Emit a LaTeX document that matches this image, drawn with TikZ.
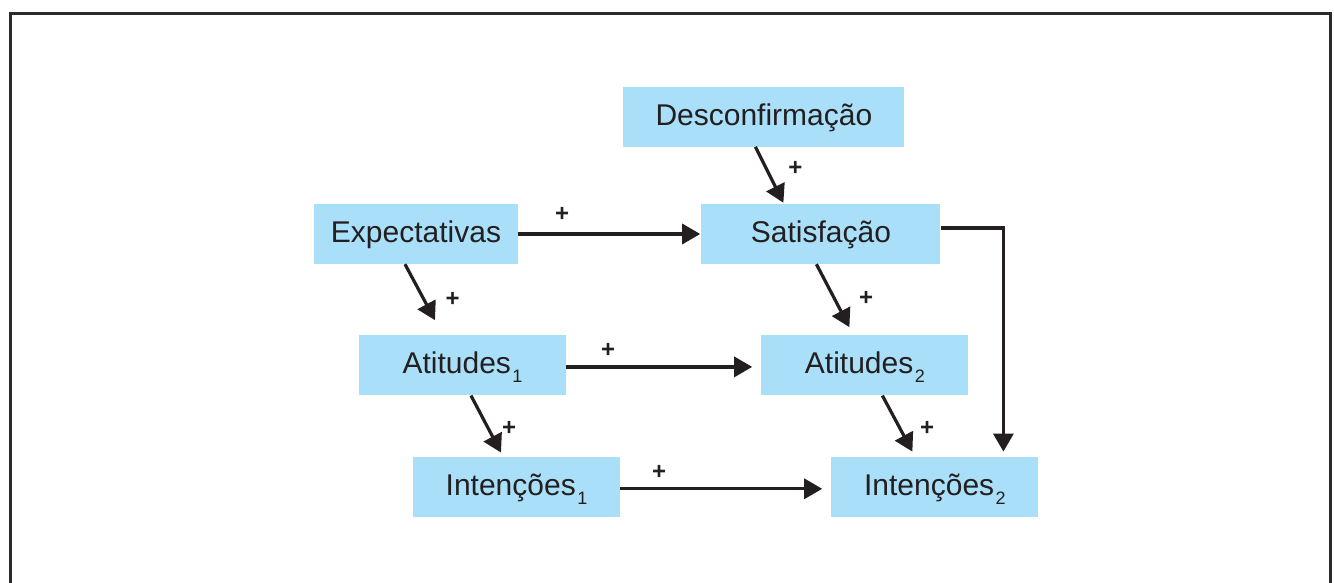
\documentclass[tikz,border=0pt]{standalone}
\usepackage{fontspec}
\setmainfont{Liberation Sans}
\usepackage{tikz}
\usetikzlibrary{arrows.meta,positioning}

\definecolor{caixaazul}{RGB}{169,223,249}
\definecolor{tinta}{RGB}{35,31,32}
\definecolor{moldura}{RGB}{43,43,43}
\newcommand{\indice}[1]{\kern1.5pt\raisebox{-9pt}{\fontsize{18}{18}\selectfont #1}}

\begin{document}
\begin{tikzpicture}[x=1pt, y=-1pt,
	>={Triangle[length=18pt,width=20pt]},
	caixa/.style = {fill=caixaazul, text=tinta, inner sep=0pt, minimum height=60pt,
		font=\fontsize{30}{34}\selectfont, text height=21pt, text depth=4pt},
	mais/.style = {text=tinta, inner sep=0pt, font=\bfseries\fontsize{24}{24}\selectfont}
	]
	\useasboundingbox (0,0) rectangle (1334,583);
	\draw[moldura, line width=3pt] (10.5,590) -- (10.5,13.5) -- (1330,13.5) -- (1330,590);
	
	\node (exp)  [caixa, minimum width=204pt] at (416,234) {Expectativas};
	\node (sat)  [caixa, minimum width=239pt, right=183pt of exp] {Satisfação};
	\node (desc) [caixa, minimum width=281pt, above=57pt of sat, xshift=-57pt] {Desconfirmação};
	
	\node (att1) [caixa, minimum width=207pt, below=71pt of exp, xshift=46.5pt] {Atitudes\indice{1}};
	\node (att2) [caixa, minimum width=207pt, right=195pt of att1] {Atitudes\indice{2}};
	
	\node (int1) [caixa, minimum width=207pt, below=61pt of att1, xshift=54pt] {Intenções\indice{1}};
	\node (int2) [caixa, minimum width=207pt, right=211pt of int1] {Intenções\indice{2}};
	
	\path[->, color=tinta, line width=3.2pt]
	([xshift=-8.5pt]desc.south)  edge  node[mais, pos=0.39, xshift=29pt] {+}  ([xshift=-37.5pt,yshift=1pt]sat.north)
	(exp.east)  edge [shorten >=1pt]  node[mais, pos=0.24, yshift=20pt] {+}  (sat.west)
	([yshift=6pt]sat.east)  edge [to path={-| (\tikztotarget)}]  node[mais, pos=0.556, xshift=20pt] {+}  ([xshift=68.5pt,yshift=5pt]int2.north)
	
	([xshift=-11pt]exp.south)  edge  node[mais, pos=0.625, xshift=29pt] {+}  ([xshift=-27.5pt,yshift=15pt]att1.north)
	([xshift=-4.5pt]sat.south)  edge  node[mais, pos=0.54, xshift=32pt] {+}  ([xshift=-15.5pt,yshift=8pt]att2.north)
	
	([yshift=-1.5pt]att1.east)  edge [shorten >=9pt]  node[mais, pos=0.215, yshift=16pt] {+}  ([yshift=-1.5pt]att2.west)
	([xshift=8.5pt]att1.south)  edge  node[mais, pos=0.57, xshift=21pt] {+}  ([xshift=-15.5pt,yshift=4pt]int1.north)
	([xshift=17.5pt]att2.south)  edge  node[mais, pos=0.59, xshift=27pt] {+}  ([xshift=-22.5pt,yshift=5pt]int2.north)
	
	([yshift=-2pt]int1.east)  edge [shorten >=9pt]  node[mais, pos=0.185, yshift=16pt] {+}  ([yshift=-2pt]int2.west);
\end{tikzpicture}
\end{document}
